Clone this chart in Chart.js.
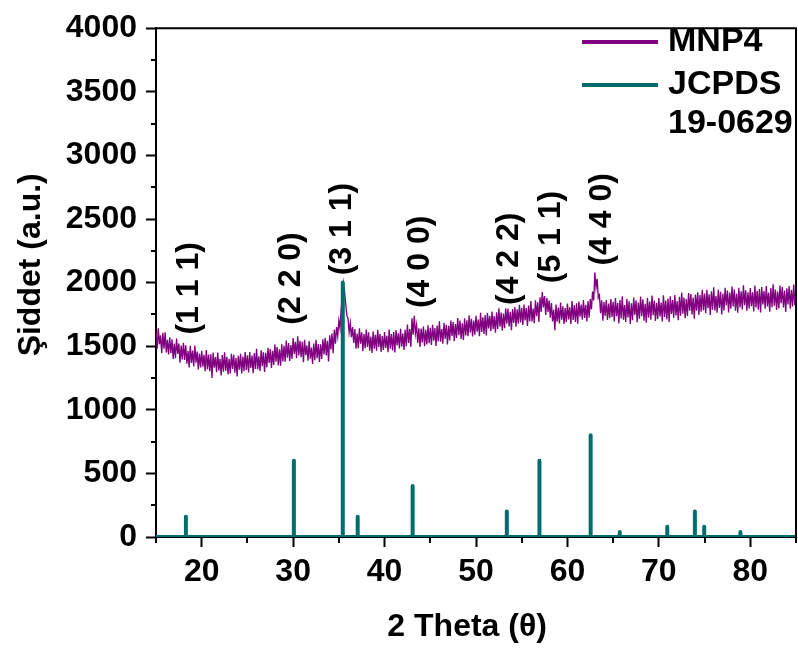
<!DOCTYPE html>
<html><head><meta charset="utf-8">
<script src="https://cdn.jsdelivr.net/npm/chart.js@4.4.1/dist/chart.umd.min.js"></script>
<style>html,body{margin:0;padding:0;background:#fff}#wrap{width:798px;height:655px;position:relative}</style>
</head><body><div id="wrap"><canvas id="c"></canvas></div>
<script>
// ---- data ----
const thetaMin = 15, thetaMax = 85;
const thetaStart = 15, thetaStep = 0.125;
const mnp4Intensity = [
// 15.0 - 19.875
1615,1480,1640,1515,1585,1445,1605,1480,1610,1450,1550,1435,1570,1445,1555,1400,1520,1405,1560,1440,
1520,1370,1505,1395,1527,1392,1507,1362,1463,1333,1503,1368,1465,1340,1505,1370,1458,1318,1443,1333,
// 20.0 - 24.875
1463,1338,1433,1303,1469,1319,1434,1304,1436,1250,1451,1331,1415,1295,1450,1310,1400,1270,1430,1300,
1452,1307,1417,1277,1401,1286,1441,1321,1432,1292,1407,1262,1425,1315,1440,1285,1419,1304,1454,1314,
// 25.0 - 29.875
1429,1294,1454,1329,1427,1287,1447,1322,1480,1320,1420,1305,1468,1343,1453,1298,1448,1333,1488,1368,
1478,1328,1463,1353,1514,1379,1494,1349,1476,1346,1516,1381,1504,1379,1544,1409,1524,1384,1509,1399,
// 30.0 - 34.875
1565,1440,1535,1405,1578,1428,1543,1413,1535,1375,1550,1430,1506,1386,1541,1401,1490,1360,1520,1390,
1551,1406,1516,1376,1515,1400,1555,1435,1567,1427,1542,1380,1585,1475,1600,1445,1630,1520,1650,1580,
// 35.0 - 39.875
1700,1640,1790,1880,1995,1930,1830,1740,1720,1610,1680,1570,1650,1525,1635,1480,1600,1485,1640,1520,
1610,1460,1595,1485,1630,1495,1610,1465,1576,1446,1616,1481,1589,1464,1629,1494,1595,1455,1580,1470,
// 40.0 - 44.875
1612,1487,1582,1452,1631,1481,1596,1466,1611,1451,1626,1506,1602,1482,1637,1497,1600,1470,1630,1500,
1670,1525,1635,1495,1720,1590,1740,1600,1665,1525,1640,1495,1639,1529,1654,1499,1629,1514,1664,1524,
// 45.0 - 49.875
1644,1509,1669,1544,1642,1502,1662,1537,1695,1535,1635,1520,1683,1558,1668,1513,1661,1546,1701,1581,
1689,1539,1674,1564,1722,1587,1702,1557,1680,1550,1720,1585,1703,1578,1743,1608,1716,1576,1701,1591,
// 50.0 - 54.875
1739,1614,1709,1579,1762,1612,1727,1597,1745,1585,1760,1640,1738,1618,1773,1633,1736,1606,1766,1636,
1799,1654,1764,1624,1757,1642,1797,1677,1795,1655,1770,1625,1793,1683,1808,1653,1791,1676,1826,1686,
// 55.0 - 59.875
1802,1667,1827,1702,1800,1660,1820,1695,1855,1695,1795,1680,1860,1735,1845,1690,1885,1770,1925,1805,
1895,1745,1880,1770,1860,1725,1840,1695,1788,1625,1828,1693,1803,1678,1843,1708,1814,1674,1799,1689,
// 60.0 - 64.875
1835,1710,1805,1675,1856,1706,1821,1691,1837,1677,1852,1732,1828,1708,1863,1723,1825,1695,1855,1725,
1870,1790,1930,1860,2080,1960,2030,1880,1900,1760,1860,1700,1847,1737,1862,1707,1835,1720,1870,1730,
// 65.0 - 69.875
1850,1695,1879,1735,1840,1678,1863,1719,1892,1708,1823,1691,1870,1726,1853,1675,1837,1704,1883,1745,
1861,1688,1844,1717,1891,1735,1868,1701,1834,1684,1880,1725,1852,1708,1898,1743,1859,1698,1842,1715,
// 70.0 - 74.875
1878,1734,1844,1694,1900,1727,1859,1710,1875,1691,1892,1754,1862,1723,1902,1741,1854,1704,1889,1739,
1922,1755,1882,1721,1871,1738,1917,1779,1911,1750,1883,1716,1907,1780,1924,1746,1903,1771,1944,1782,
// 75.0 - 79.875
1914,1759,1943,1799,1908,1746,1931,1787,1964,1780,1895,1763,1944,1800,1927,1749,1913,1780,1959,1821,
1938,1765,1921,1794,1969,1813,1946,1779,1913,1763,1959,1804,1932,1788,1978,1823,1940,1779,1923,1796,
// 80.0 - 84.875
1958,1814,1924,1774,1977,1804,1936,1787,1949,1765,1966,1828,1933,1794,1973,1812,1922,1772,1957,1807,
1986,1819,1946,1785,1930,1797,1976,1838,1965,1804,1937,1770,1955,1828,1972,1794,1944,1812,1985,1823,
// 85.0
1900];
const jcpdsTheta = [18.27, 30.08, 35.43, 37.06, 43.07, 53.37, 56.94, 62.54, 65.72, 70.92, 73.94, 74.96, 78.92];
const jcpdsIntensity = [160, 600, 2000, 160, 400, 200, 600, 800, 40, 80, 200, 80, 40];
const xTickValues = [20, 30, 40, 50, 60, 70, 80];
const xMinorValues = [15, 25, 35, 45, 55, 65, 75, 85];
const yTickValues = [0, 500, 1000, 1500, 2000, 2500, 3000, 3500, 4000];
const yMinorValues = [250, 750, 1250, 1750, 2250, 2750, 3250, 3750];
const hklLabels = ['(1 1 1)', '(2 2 0)', '(3 1 1)', '(4 0 0)', '(4 2 2)', '(5 1 1)', '(4 4 0)'];
const hklTheta = [18.6, 29.73, 35.4, 43.9, 53.6, 58.2, 63.8];
const hklBase = [1591, 1669, 2057, 1800, 1824, 1995, 2134];
const seriesNames = ['MNP4', 'JCPDS'];
const legendExtra = '19-0629';

// ---- build ----
const FONT = "'Liberation Sans', Arial, sans-serif";
const PURPLE = '#800080';
const TEAL = '#006d6d';
const mnp4Data = mnp4Intensity.map((v, i) => ({x: thetaStart + i * thetaStep, y: v}));
const jcpdsData = [{x: thetaMin, y: 0}];
jcpdsTheta.forEach((t, i) => {
  jcpdsData.push({x: t, y: 0}, {x: t, y: jcpdsIntensity[i]}, {x: t, y: 0});
});
jcpdsData.push({x: thetaMax, y: 0});

const extras = {
  id: 'extras',
  afterDraw(chart) {
    const {ctx, chartArea: a, scales: {x, y}} = chart;
    ctx.save();
    ctx.strokeStyle = '#000'; ctx.lineWidth = 2;
    ctx.beginPath();
    ctx.moveTo(a.left, a.top); ctx.lineTo(a.right, a.top); ctx.lineTo(a.right, a.bottom);
    ctx.stroke();
    ctx.beginPath();
    yMinorValues.forEach(v => { const p = Math.round(y.getPixelForValue(v)); ctx.moveTo(a.left - 5, p); ctx.lineTo(a.left, p); });
    xMinorValues.forEach(v => { const p = Math.round(x.getPixelForValue(v)); ctx.moveTo(p, a.bottom); ctx.lineTo(p, a.bottom + 6); });
    ctx.stroke();
    ctx.fillStyle = '#000';
    ctx.font = "bold 32px " + FONT;
    ctx.textAlign = 'left'; ctx.textBaseline = 'middle';
    hklLabels.forEach((t, i) => {
      ctx.save();
      ctx.translate(x.getPixelForValue(hklTheta[i]), y.getPixelForValue(hklBase[i]));
      ctx.rotate(-Math.PI / 2);
      ctx.fillText(t, 0, 0);
      ctx.restore();
    });
    const ds = chart.data.datasets;
    const rows = [{text: ds[0].label, color: ds[0].borderColor}, {text: ds[1].label, color: ds[1].borderColor}, {text: legendExtra, color: null}];
    const rowY = [42, 85, 124];
    ctx.font = "bold 34px " + FONT;
    rows.forEach((r, i) => {
      if (r.color) {
        ctx.strokeStyle = r.color; ctx.lineWidth = 4;
        ctx.beginPath(); ctx.moveTo(582, rowY[i]); ctx.lineTo(658, rowY[i]); ctx.stroke();
      }
      ctx.fillStyle = '#000';
      ctx.fillText(r.text, 668, rowY[i]);
    });
    ctx.restore();
  }
};

const tickFont = {family: FONT, size: 32, weight: 'bold'};
const titleFont = {family: FONT, size: 32, weight: 'bold'};

new Chart(document.getElementById('c'), {
  type: 'line',
  data: {
    datasets: [
      {label: seriesNames[0], data: mnp4Data, borderColor: PURPLE, borderWidth: 1.35, pointRadius: 0, tension: 0, order: 1},
      {label: seriesNames[1], data: jcpdsData, borderColor: TEAL, borderWidth: 4, pointRadius: 0, tension: 0,
       borderCapStyle: 'round', borderJoinStyle: 'round', order: 0}
    ]
  },
  options: {
    responsive: true, maintainAspectRatio: false, animation: false, devicePixelRatio: 1,
    layout: {padding: {top: 21, right: 2, left: 0, bottom: 0}},
    plugins: {legend: {display: false}, tooltip: {enabled: false}},
    scales: {
      x: {
        type: 'linear', min: thetaMin, max: thetaMax,
        afterBuildTicks: s => { s.ticks = xTickValues.map(v => ({value: v})); },
        afterFit: s => { s.height = 118; },
        grid: {drawOnChartArea: false, drawTicks: true, tickLength: 10, tickWidth: 2, tickColor: '#000'},
        border: {display: true, color: '#000', width: 2},
        ticks: {color: '#000', font: tickFont, padding: 6, maxRotation: 0, autoSkip: false, callback: v => String(v)},
        title: {display: true, text: '2 Theta (θ)  ', color: '#000', font: titleFont, padding: {top: 0, bottom: 9}}
      },
      y: {
        type: 'linear', min: 0, max: 4000,
        afterBuildTicks: s => { s.ticks = yTickValues.map(v => ({value: v})); },
        afterFit: s => { s.width = 156; },
        grid: {drawOnChartArea: false, drawTicks: true, tickLength: 10, tickWidth: 2, tickColor: '#000'},
        border: {display: true, color: '#000', width: 2},
        ticks: {color: '#000', font: tickFont, padding: 9, autoSkip: false, callback: v => String(v)},
        title: {display: true, text: '    Şiddet (a.u.)', color: '#000', font: titleFont, padding: {top: 12, bottom: 0}}
      }
    }
  },
  plugins: [extras]
});
</script>
</body></html>
